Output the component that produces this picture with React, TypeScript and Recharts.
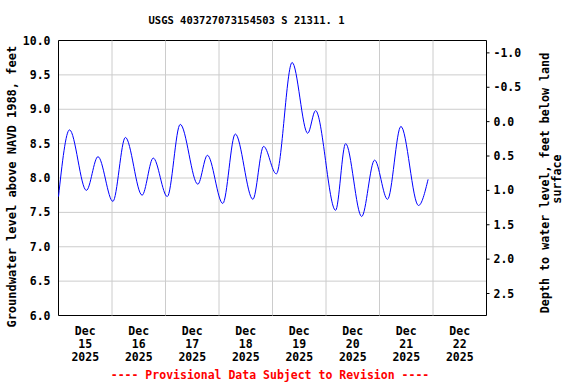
import React from "react";
import {
  LineChart,
  Line,
  XAxis,
  YAxis,
  CartesianGrid,
  ReferenceLine,
  ReferenceArea,
} from "recharts";

// Hours since Dec 15 2025 00:00 and groundwater level (ft above NAVD 1988)
const hours = [0, 4.95, 12.5, 17.7, 24.4, 30.0, 37.5, 42.5, 48.8, 54.6, 62.5, 66.8, 73.7, 79.3, 87.2, 92.0, 97.7, 104.8, 111.8, 115.3, 124.3, 128.8, 136.0, 141.8, 147.6, 153.6, 161.5, 165.8];
const levels = [7.73, 8.70, 7.82, 8.31, 7.66, 8.59, 7.75, 8.29, 7.73, 8.78, 7.91, 8.33, 7.63, 8.64, 7.69, 8.46, 8.06, 9.68, 8.65, 8.98, 7.53, 8.50, 7.44, 8.26, 7.69, 8.75, 7.60, 7.98];

const landSurface = 8.82; // level at depth 0
const dayNumbers = ["15", "16", "17", "18", "19", "20", "21", "22"];
const dayLabelHours = [12, 36, 60, 84, 108, 132, 156, 180];
const midnightHours = [24, 48, 72, 96, 120, 144, 168];
const leftTicks = [6.0, 6.5, 7.0, 7.5, 8.0, 8.5, 9.0, 9.5, 10.0];
const rightTicks = [-1.0, -0.5, 0.0, 0.5, 1.0, 1.5, 2.0, 2.5];

const data = hours.map((h, i) => ({ h, level: levels[i], depth: landSurface - levels[i] }));

const FONT = "'DejaVu Sans Mono', 'Liberation Mono', monospace";

const DayTick = (props: any) => {
  const { x, y, payload } = props;
  const idx = Math.round((payload.value - 12) / 24);
  return (
    <text x={x} y={y} textAnchor="middle" fontFamily={FONT} fontWeight="bold" fontSize={11.5} fill="#000">
      <tspan x={x} dy={19}>Dec</tspan>
      <tspan x={x} dy={13}>{dayNumbers[idx]}</tspan>
      <tspan x={x} dy={13}>2025</tspan>
    </text>
  );
};

export default function App() {
  return (
    <div style={{ position: "absolute", left: 0, top: 0, width: 576, height: 384, background: "#fff" }}>
      <LineChart width={576} height={384} data={data} margin={{ top: 40.5, right: 0, bottom: 0, left: 0 }}>
        <CartesianGrid vertical={false} stroke="#cccccc" />
        <XAxis
          dataKey="h"
          type="number"
          domain={[0, 192]}
          ticks={dayLabelHours}
          interval={0}
          tick={<DayTick />}
          tickLine={false}
          axisLine={false}
          tickSize={0}
          tickMargin={0}
          height={68.5}
        />
        <YAxis
          domain={[6, 10]}
          ticks={leftTicks}
          tickFormatter={(v: number) => v.toFixed(1)}
          width={58.5}
          tickLine={false}
          axisLine={false}
          tickSize={6}
          tickMargin={2}
          tick={{ fontFamily: FONT, fontWeight: "bold", fontSize: 11.5, fill: "#000" }}
        />
        <YAxis
          yAxisId="right"
          orientation="right"
          reversed
          domain={[landSurface - 10, landSurface - 6]}
          ticks={rightTicks}
          tickFormatter={(v: number) => v.toFixed(1)}
          width={89.5}
          axisLine={false}
          tickLine={{ stroke: "#000" }}
          tickSize={3}
          tickMargin={4}
          tick={{ fontFamily: FONT, fontWeight: "bold", fontSize: 11.5, fill: "#000", textAnchor: "start" }}
          allowDataOverflow
        />
        {midnightHours.map((m) => (
          <ReferenceLine key={m} x={m} stroke="#cccccc" />
        ))}
        <Line
          yAxisId="right"
          dataKey="depth"
          stroke="transparent"
          dot={false}
          activeDot={false}
          isAnimationActive={false}
        />
        <Line
          dataKey="level"
          type="monotone"
          stroke="#0000ff"
          strokeWidth={1}
          dot={false}
          activeDot={false}
          isAnimationActive={false}
        />
        <ReferenceArea x1={0} x2={192} y1={6} y2={10} stroke="#000" strokeWidth={1} fill="none" fillOpacity={0} />
      </LineChart>
      <svg width={576} height={384} style={{ position: "absolute", left: 0, top: 0, pointerEvents: "none" }}>
        <text x={246.5} y={24} textAnchor="middle" fontFamily={FONT} fontWeight="bold" fontSize={10.5} fill="#000">
          USGS 403727073154503 S 21311. 1
        </text>
        <text
          x={12}
          y={186.7}
          transform="rotate(-90 12 186.7)"
          textAnchor="middle"
          dominantBaseline="central"
          fontFamily={FONT}
          fontWeight="bold"
          fontSize={12}
          fill="#000"
        >
          Groundwater level above NAVD 1988, feet
        </text>
        <text
          x={545}
          y={183}
          transform="rotate(-90 545 183)"
          textAnchor="middle"
          dominantBaseline="central"
          fontFamily={FONT}
          fontWeight="bold"
          fontSize={11.7}
          fill="#000"
        >
          Depth to water level, feet below land
        </text>
        <text
          x={556.7}
          y={179}
          transform="rotate(-90 556.7 179)"
          textAnchor="middle"
          dominantBaseline="central"
          fontFamily={FONT}
          fontWeight="bold"
          fontSize={11.7}
          fill="#000"
        >
          surface
        </text>
        <text x={270} y={379} textAnchor="middle" fontFamily={FONT} fontWeight="bold" fontSize={11.5} fill="#ff0000">
          ---- Provisional Data Subject to Revision ----
        </text>
      </svg>
    </div>
  );
}
